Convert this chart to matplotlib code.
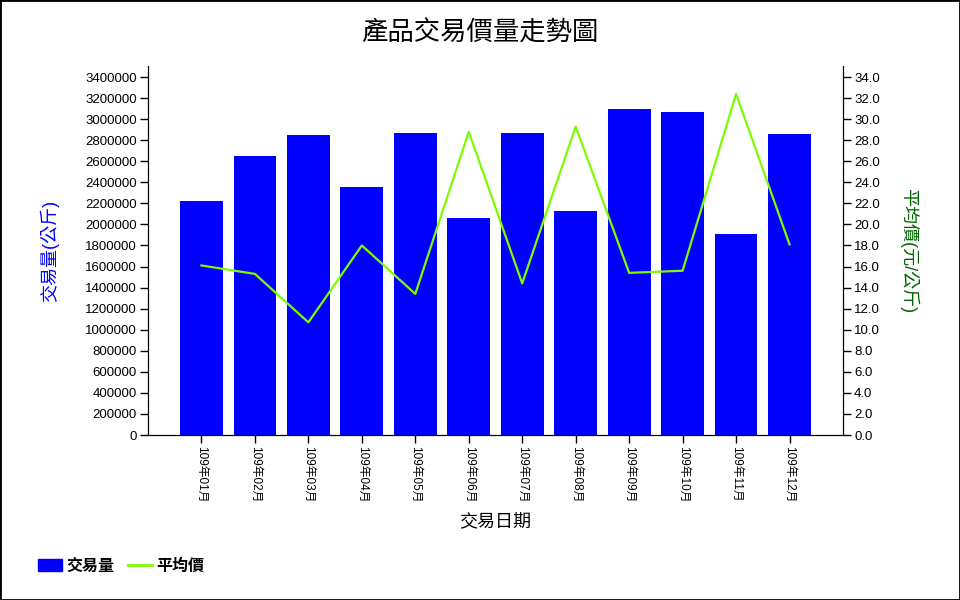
import numpy as np
import matplotlib.pyplot as plt
from matplotlib.patches import Rectangle, Patch
from matplotlib.lines import Line2D

plt.rcParams['font.family'] = ['Liberation Sans', 'Noto Sans CJK TC']

# 資料
months = ['109年01月', '109年02月', '109年03月', '109年04月', '109年05月', '109年06月',
          '109年07月', '109年08月', '109年09月', '109年10月', '109年11月', '109年12月']
volume = [2220000, 2650000, 2850000, 2355000, 2868000, 2061000,
          2868000, 2127000, 3096000, 3067000, 1909000, 2858000]
price = [16.1, 15.3, 10.7, 18.0, 13.4, 28.8, 14.4, 29.3, 15.4, 15.6, 32.4, 18.1]

fig = plt.figure(figsize=(9.6, 6), dpi=100)
ax = fig.add_axes([148 / 960, 1 - 435 / 600, (843 - 148) / 960, (435 - 66.5) / 600])
ax2 = ax.twinx()

x = np.arange(1, len(months) + 1)
ax.bar(x, volume, width=0.8, color='#0000ff')
ax2.plot(x, price, color='#7cfc00', linewidth=1.6)

ax.set_xlim(0, 13)
ax.set_ylim(0, 3500000)
ax2.set_ylim(0, 35)
ax.set_yticks(np.arange(0, 3400001, 200000))
ax.set_yticklabels([str(v) for v in range(0, 3400001, 200000)])
ax2.set_yticks(np.arange(0, 34.1, 2))
ax2.set_yticklabels(['%.1f' % v for v in np.arange(0, 34.1, 2)])
ax.set_xticks(x)
ax.set_xticklabels(months, rotation=270)

for a in (ax, ax2):
    a.spines['top'].set_visible(False)
    a.tick_params(labelsize=9.5, length=6, width=1, pad=2)
ax.tick_params(axis='x', labelsize=8.5)

ax.set_ylabel('交易量(公斤)', color='#0000ff', fontsize=13, labelpad=19)
ax2.set_ylabel('平均價(元/公斤)', color='#006400', fontsize=13, rotation=270, labelpad=28)
ax.set_xlabel('交易日期', fontsize=13, labelpad=8)
fig.text(0.5, 1 - 33 / 600, '產品交易價量走勢圖', ha='center', va='center', fontsize=19)

handles = [Patch(facecolor='#0000ff', edgecolor='#0000ff'),
           Line2D([0], [0], color='#7cfc00', linewidth=2)]
fig.legend(handles, ['交易量', '平均價'], loc='center left', bbox_to_anchor=(38 / 960, 1 - 566 / 600),
           ncol=2, frameon=False, handlelength=1.5, handleheight=0.8, columnspacing=0.9,
           handletextpad=0.25, borderaxespad=0.0, borderpad=0.0,
           prop={'weight': 'bold', 'size': 11.5})

fig.patches.append(Rectangle((0, 0), 1, 1, transform=fig.transFigure, fill=False,
                             edgecolor='black', linewidth=2))

fig.savefig('out.png', dpi=100)
